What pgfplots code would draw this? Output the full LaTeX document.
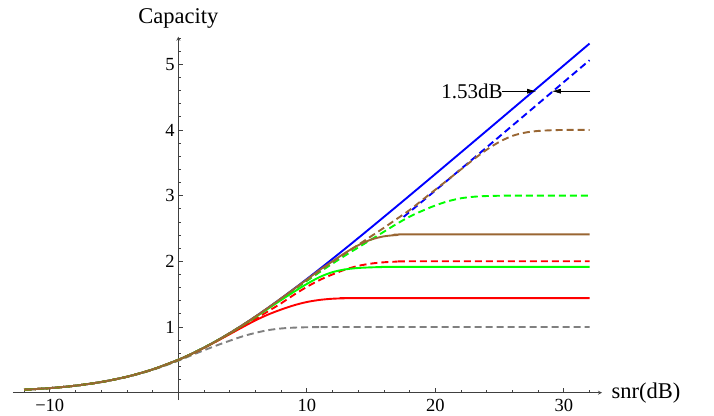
\documentclass[border=0pt]{standalone}
\usepackage{pgfplots}
\pgfplotsset{compat=1.18}
\usepackage{fontspec}
\setmainfont{Liberation Serif}
\usetikzlibrary{arrows.meta}
\definecolor{mbrown}{rgb}{0.6,0.4,0.2}
\definecolor{mgray}{rgb}{0.5,0.5,0.5}
\begin{document}
\begin{tikzpicture}
\begin{axis}[
  scale only axis, width=589pt, height=363.3pt,
  xmin=-12.86, xmax=32.97, ymin=-0.112, ymax=5.42,
  axis lines=middle,
  axis line style={black!75, line width=0.8pt},
  tick style={black!75, line width=0.7pt},
  tick align=inside,
  major tick length=5pt, minor tick length=3pt,
  xtick={-10,10,20,30}, xticklabels={−10,10,20,30},
  minor xtick={-12,-8,-6,-4,-2,2,4,6,8,12,14,16,18,22,24,26,28,32},
  ytick={1,2,3,4,5},
  minor ytick={0.2,0.4,0.6,0.8,1.2,1.4,1.6,1.8,2.2,2.4,2.6,2.8,3.2,3.4,3.6,3.8,4.2,4.4,4.6,4.8,5.2,5.4},
  /pgf/number format/assume math mode=true,
  tick label style={font=\fontsize{18.5}{20}\selectfont},
  xticklabel style={inner sep=0pt, anchor=north, yshift=-6pt},
  yticklabel style={inner sep=0pt, anchor=east, xshift=-3.5pt},
  xlabel={snr(dB)}, ylabel={Capacity},
  every axis x label/.style={at={(axis cs:32.97,0)}, anchor=west, xshift=9.5pt, inner sep=0pt, font=\fontsize{22.5}{24}\selectfont},
  every axis y label/.style={at={(axis cs:0,5.42)}, anchor=base, yshift=13.4pt, inner sep=0pt, font=\fontsize{22.5}{24}\selectfont},
  every axis plot/.append style={line width=1.9pt, smooth},
  clip=false,
]
% Shannon
\addplot[blue] coordinates {(-12,0.0441)(-10,0.0688)(-8,0.1061)(-6,0.1617)(-4,0.2418)(-2,0.3529)(0,0.5)(1,0.5878)(2,0.6851)(3,0.7913)(4,0.9061)(5,1.0287)(6,1.1582)(7,1.2939)(8,1.435)(9,1.5805)(10,1.7297)(11,1.8822)(12,2.0374)(13,2.1945)(14,2.3535)(15,2.5139)(16,2.6755)(17,2.8379)(18,3.0011)(20,3.3291)(22,3.6587)(24,3.9892)(26,4.3203)(28,4.6519)(30,4.9836)(32,5.3155)};
% 1.53 dB gap
\addplot[blue, dash pattern=on 7pt off 4pt] coordinates {(17.53,2.6755)(19.53,3.0011)(21.53,3.3291)(23.53,3.6587)(25.53,3.9892)(27.53,4.3203)(29.53,4.6519)(31.53,4.9836)(32,5.0617)};
% 2-PAM
\addplot[mgray, dash pattern=on 7pt off 4pt] coordinates {(-12,0.0441)(-10,0.0686)(-8,0.1055)(-6,0.160)(-4,0.239)(-2,0.346)(0,0.486)(1,0.567)(2,0.645)(3,0.72)(4,0.79)(5,0.857)(6,0.91)(7,0.952)(8,0.977)(9,0.99)(10,0.996)(11,0.999)(12,1.0)(32,1.0)};
% 4-PAM
\addplot[red, dash pattern=on 7pt off 4pt] coordinates {(-12,0.0441)(-10,0.0688)(-8,0.1061)(-6,0.1617)(-4,0.2418)(-2,0.3529)(0,0.499)(1,0.586)(2,0.682)(3,0.786)(4,0.896)(5,1.01)(6,1.122)(7,1.24)(8,1.36)(9,1.49)(10,1.61)(11,1.715)(12,1.80)(13,1.875)(14,1.93)(15,1.965)(16,1.985)(17,1.995)(18,2.0)(32,2.0)};
% 8-PAM
\addplot[green, dash pattern=on 7pt off 4pt] coordinates {(-12,0.0441)(-10,0.0688)(-8,0.1061)(-6,0.1617)(-4,0.2418)(-2,0.3529)(0,0.5)(1,0.5878)(2,0.6851)(3,0.791)(4,0.905)(5,1.027)(6,1.155)(7,1.29)(8,1.425)(9,1.565)(10,1.70)(11,1.835)(12,1.965)(13,2.09)(14,2.21)(15,2.33)(16,2.45)(17,2.57)(18,2.68)(19,2.77)(20,2.85)(21,2.915)(22,2.96)(23,2.983)(24,2.994)(25,2.998)(26,3.0)(32,3.0)};
% 16-PAM
\addplot[mbrown, dash pattern=on 7pt off 4pt] coordinates {(-12,0.0441)(-10,0.0688)(-8,0.1061)(-6,0.1617)(-4,0.2418)(-2,0.3529)(0,0.5)(1,0.5878)(2,0.6851)(3,0.7913)(4,0.906)(5,1.028)(6,1.157)(7,1.292)(8,1.43)(9,1.573)(10,1.715)(11,1.855)(12,1.99)(13,2.12)(14,2.25)(15,2.38)(16,2.51)(17,2.645)(18,2.78)(19,2.935)(20,3.09)(21,3.245)(22,3.40)(23,3.555)(24,3.70)(25,3.82)(26,3.91)(27,3.96)(28,3.985)(29,3.995)(30,4.0)(32,4.0)};
% solid constellations
\addplot[red] coordinates {(-12,0.0441)(-10,0.0688)(-8,0.1061)(-6,0.1617)(-4,0.2418)(-2,0.3529)(0,0.499)(1,0.586)(2,0.681)(3,0.784)(4,0.89)(5,0.997)(6,1.1)(7,1.19)(8,1.265)(9,1.33)(10,1.38)(11,1.412)(12,1.43)(13,1.437)(14,1.44)(32,1.44)};
\addplot[green] coordinates {(-12,0.0441)(-10,0.0688)(-8,0.1061)(-6,0.1617)(-4,0.2418)(-2,0.3529)(0,0.5)(1,0.5878)(2,0.6851)(3,0.791)(4,0.903)(5,1.025)(6,1.15)(7,1.28)(8,1.41)(9,1.535)(10,1.655)(11,1.76)(12,1.835)(13,1.877)(14,1.898)(15,1.908)(16,1.913)(17,1.915)(32,1.915)};
\addplot[mbrown] coordinates {(-12,0.0441)(-10,0.0688)(-8,0.1061)(-6,0.1617)(-4,0.2418)(-2,0.3529)(0,0.5)(1,0.5878)(2,0.6851)(3,0.7913)(4,0.906)(5,1.029)(6,1.158)(7,1.294)(8,1.434)(9,1.578)(10,1.722)(11,1.868)(12,2.0)(13,2.13)(14,2.245)(15,2.33)(16,2.38)(17,2.40)(18,2.41)(32,2.41)};
% annotation
\draw[line width=0.7pt, -{Latex[length=9pt,width=5pt]}] (axis cs:25.17,4.59) -- (axis cs:27.85,4.59);
\draw[line width=0.7pt, -{Latex[length=9pt,width=5pt]}] (axis cs:32.04,4.59) -- (axis cs:29.06,4.59);
\node[anchor=east, inner sep=0pt, font=\fontsize{21}{23}\selectfont] at (axis cs:25.25,4.59) {1.53dB};
\end{axis}
\pgfresetboundingbox
\path (current axis.south west) ++(-13pt,-15pt) rectangle ++(714pt,415pt);
\end{tikzpicture}
\end{document}
